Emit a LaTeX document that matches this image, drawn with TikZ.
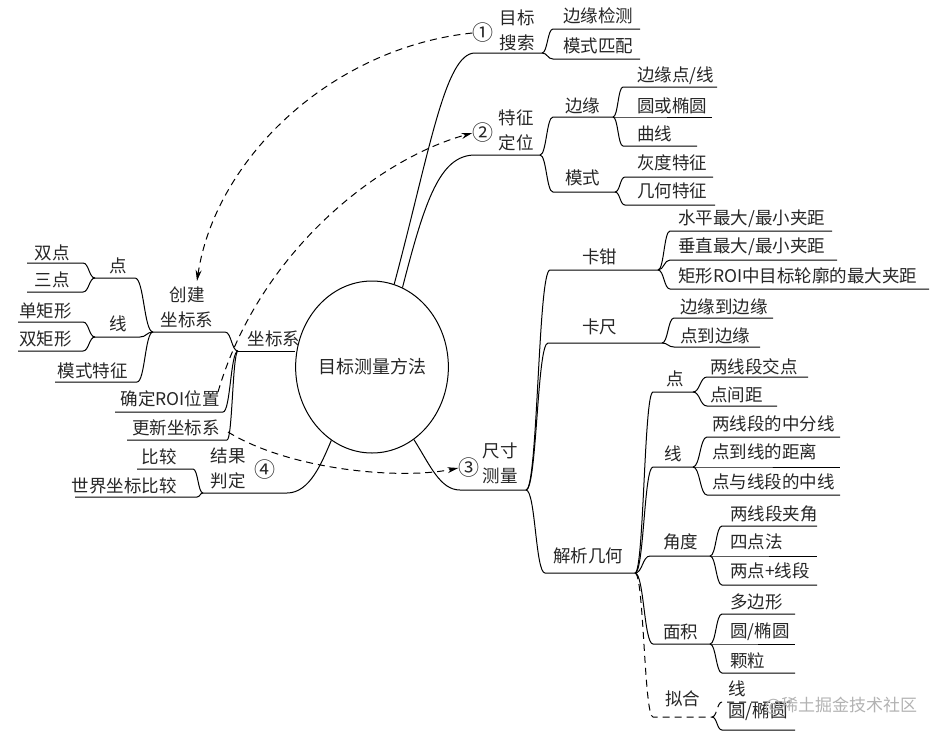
\documentclass[tikz,border=0pt]{standalone}
\usepackage{fontspec}
\setmainfont{Noto Sans CJK SC}
\usetikzlibrary{calc,shapes.geometric,arrows.meta}
\newcommand\conn[4][]{\draw[cn,#1] let \p1=(#2), \p2=(#3) in (\p1) .. controls ({(\x1+\x2)/2},\y1) and ({(\x1+\x2)/2},\y2) .. (\p2) -- (#4);}
\newcommand\leaf[8][]{%
  \node[lbl,#6] (#2) at (#7) {#8};
  \coordinate (#2-s) at (#4);
  \coordinate (#2-e) at (#5);
  \conn[#1]{#3}{#2-s}{#2-e}}
\tikzset{
  cn/.style={line width=1pt},
  lbl/.style={inner sep=0pt, yshift=1.2pt, text=black!85, font=\fontsize{17.5}{25}\selectfont},
  num/.style={inner sep=0pt, text=black!85, font=\fontsize{21}{21}\selectfont},
  dsh/.style={line width=1pt, dash pattern=on 7pt off 5pt},
  arr/.style={-{Stealth[length=11pt,width=6pt]}}
}
\begin{document}
\begin{tikzpicture}[x=1pt,y=-1pt]
\useasboundingbox (0,0) rectangle (942,739);
% root
\node[draw, ellipse, line width=1pt, minimum width=132pt, minimum height=172pt, inner sep=0pt, text=black!85, font=\fontsize{18}{25}\selectfont] (root) at (372,367) {目标测量方法};

% ---- branch 1: 目标搜索
\node[lbl, align=center] (mbss) at (517,31.5) {目标\\搜索};
\node[num] (c1) at (483,33) {①};
\coordinate (F1) at (542,53);
\coordinate (A1) at (475,53);
\draw[cn] (root.75) .. controls (430,150) and (445,53) .. (A1) -- (F1);
\leaf{bjjc}{F1}{553,29}{640,29}{anchor=west}{563,17.5}{边缘检测}
\leaf{mspp}{F1}{553,59}{640,59}{anchor=west}{563,47}{模式匹配}

% ---- branch 2: 特征定位
\node[lbl, align=center] (tzdw) at (516,131.5) {特征\\定位};
\node[num] (c2) at (483,133) {②};
\coordinate (F2) at (540,155);
\coordinate (B1) at (475,155);
\draw[cn] (root.69) .. controls (425,200) and (440,155) .. (B1) -- (F2);
\coordinate (E1) at (613,117);
\coordinate (E2) at (615,192);
\leaf{by}{F2}{553,117}{E1}{anchor=west}{565,107}{边缘}
\leaf{ms}{F2}{553,192}{E2}{anchor=west}{565,179}{模式}
\leaf{bydx}{E1}{623,87}{717,87}{anchor=west}{637,77}{边缘点/线}
\leaf{yhty}{E1}{623,117}{712,117}{anchor=west}{637,107}{圆或椭圆}
\leaf{qx}{E1}{623,146}{697,146}{anchor=west}{637,135}{曲线}
\leaf{hdtz}{E2}{625,177}{713,177}{anchor=west}{637,164}{灰度特征}
\leaf{jhtz}{E2}{625,205}{715,205}{anchor=west}{637,192}{几何特征}

% ---- branch 3: 尺寸测量
\node[lbl, align=center] (ccl) at (500,464.5) {尺寸\\测量};
\node[num] (c3) at (469,468) {③};
\coordinate (S) at (526,490);
\coordinate (S1) at (460,490);
\draw[cn] (root.300) .. controls (430,465) and (440,490) .. (S1) -- (S);
\coordinate (K1) at (658,270);
\coordinate (K2) at (662,343);
\coordinate (J) at (635,573);
\leaf{kq}{S}{550,270}{K1}{anchor=west}{582,258}{卡钳}
\leaf{kc}{S}{548,343}{K2}{anchor=west}{582,328}{卡尺}
\leaf{jxjh}{S}{545,573}{J}{anchor=west}{553,557}{解析几何}
\leaf{sp}{K1}{670,231}{832,231}{anchor=west}{678,220}{水平最大/最小夹距}
\leaf{cz}{K1}{670,260}{837,260}{anchor=west}{678,248}{垂直最大/最小夹距}
\leaf{jx}{K1}{670,289}{929,289}{anchor=west}{678,277}{矩形ROI中目标轮廓的最大夹距}
\leaf{bdb}{K2}{674,318}{773,318}{anchor=west}{680,308}{边缘到边缘}
\leaf{ddb}{K2}{674,347}{760,347}{anchor=west}{680,337}{点到边缘}
\coordinate (P2) at (693,392);
\coordinate (L2) at (693,467);
\coordinate (A2) at (710,556);
\coordinate (M2) at (710,644);
\coordinate (N2) at (712,717);
\leaf{jd}{J}{653,392}{P2}{anchor=west}{666,380}{点}
\leaf{jl}{J}{653,467}{L2}{anchor=west}{664,455}{线}
\leaf{jjd}{J}{650,556}{A2}{anchor=west}{663,543}{角度}
\leaf{jmj}{J}{653,644}{M2}{anchor=west}{663,633}{面积}
\leaf[dsh]{jnh}{J}{653,717}{N2}{anchor=west}{665,700}{拟合}
\leaf{lxdjd}{P2}{707,377}{808,377}{anchor=west}{710,368}{两线段交点}
\leaf{djj}{P2}{707,406}{777,406}{anchor=west}{710,396}{点间距}
\leaf{zfx}{L2}{707,437}{840,437}{anchor=west}{712,425}{两线段的中分线}
\leaf{dxjl}{L2}{707,467}{840,467}{anchor=west}{712,453}{点到线的距离}
\leaf{dzx}{L2}{707,495}{840,495}{anchor=west}{712,483}{点与线段的中线}
\leaf{jj}{A2}{722,526}{817,526}{anchor=west}{730,515}{两线段夹角}
\leaf{sdf}{A2}{722,556}{817,556}{anchor=west}{730,543}{四点法}
\leaf{ldxd}{A2}{722,585}{817,585}{anchor=west}{730,572}{两点+线段}
\leaf{dbx}{M2}{722,614}{795,614}{anchor=west}{730,603}{多边形}
\leaf{ytya}{M2}{722,644}{795,644}{anchor=west}{730,633}{圆/椭圆}
\leaf{kl}{M2}{722,673}{795,673}{anchor=west}{730,662}{颗粒}
\leaf[dsh]{nx}{N2}{722,702}{790,702}{anchor=west}{728,690}{线}
\leaf{nyty}{N2}{722,730}{795,730}{anchor=west}{728,713}{圆/椭圆}

% ---- left: 坐标系
\node[lbl] (zbx) at (274,340) {坐标系};
\coordinate (L) at (238,351);
\draw[cn] (L) -- (L -| root.west);
\coordinate (C) at (153,332);
\node[lbl, align=center] (cjzbx) at (187,308.5) {创建\\坐标系};
\conn{L}{225,332}{C}
\leaf{qd}{L}{223,412}{115,412}{anchor=east}{220,400}{确定ROI位置}
\leaf{gx}{L}{227,440}{127,440}{anchor=east}{220,429}{更新坐标系}
\coordinate (P) at (95,278);
\coordinate (Q) at (95,337);
\node[lbl] (ld) at (118,267) {点};
\conn{C}{135,278}{P}
\node[lbl] (lx) at (118,325) {线};
\conn{C}{140,337}{Q}
\leaf{mstz}{C}{137,382}{55,382}{anchor=east}{128,372}{模式特征}
\leaf{sd}{P}{83,263}{27,263}{anchor=east}{70,254}{双点}
\leaf{sand}{P}{83,292}{27,292}{anchor=east}{70,281}{三点}
\leaf{djx}{Q}{83,322}{18,322}{anchor=east}{72,312}{单矩形}
\leaf{sjx}{Q}{83,351}{18,351}{anchor=east}{72,340}{双矩形}

% ---- left bottom: 结果判定
\node[lbl, align=center] (jgpd) at (228,470) {结果\\判定};
\node[num] (c4) at (265,470) {④};
\coordinate (R) at (203,493);
\coordinate (R1) at (287,493);
\draw[cn] (root.241) .. controls (322,462) and (310,493) .. (R1) -- (R);
\leaf{bj}{R}{193,469}{137,469}{anchor=east}{177,458}{比较}
\leaf{sjbj}{R}{197,497}{75,497}{anchor=east}{177,487}{世界坐标比较}

% ---- dashed arrows
\coordinate (a1e) at (197,281);
\draw[dsh,arr] (c1.west) .. controls (330,48) and (215,160) .. (a1e);
\coordinate (a2s) at (218,392);
\draw[dsh,arr] (a2s) .. controls (258,255) and (375,160) .. (c2.west);
\coordinate (a3s) at (228,432);
\draw[dsh,arr] (a3s) .. controls (290,470) and (400,480) .. (c3.west);

% watermark
\node[inner sep=0pt, text=black!30, font=\fontsize{17}{17}\selectfont] (wm) at (841,706) {@稀土掘金技术社区};
\end{tikzpicture}
\end{document}
